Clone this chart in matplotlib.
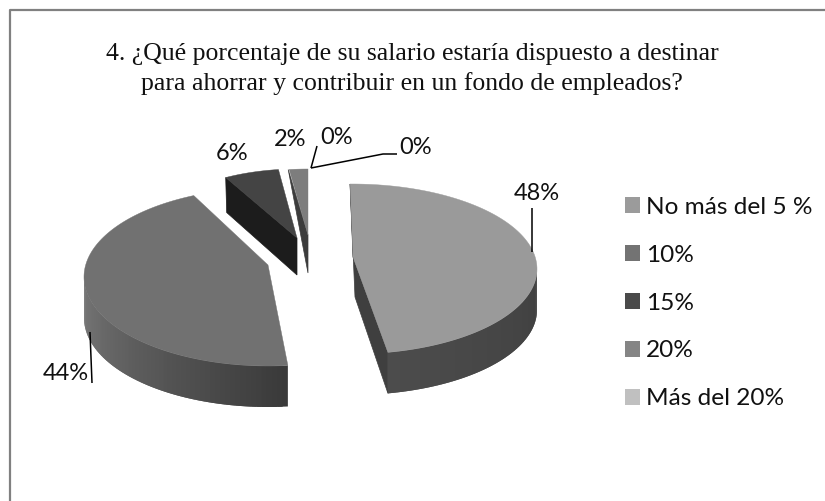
import numpy as np
import matplotlib
matplotlib.use('Agg')
import matplotlib.pyplot as plt
from matplotlib.patches import Patch

titulo = '4. ¿Qué porcentaje de su salario estaría dispuesto a destinar\npara ahorrar y contribuir en un fondo de empleados?'
categorias = ['No más del 5 %', '10%', '15%', '20%', 'Más del 20%']
colores_leyenda = ['#9b9b9b', '#737373', '#4a4a4a', '#858585', '#c0c0c0']
valores = [48, 44, 6, 2, 0, 0]
etiquetas = ['48%', '44%', '6%', '2%', '0%', '0%']

# geometria de cada porcion visible: (centro x, centro y, rx, ry, apice x, apice y, alto)
geo = [
    (352, 269, 185, 85, 353, 257, 41),
    (268, 277, 184, 89, 268, 265, 41),
    (297, 238, 148, 69, 297, 238, 37),
    (308, 235, 150, 66, 308, 235, 38),
]
ajuste = [(-0.6, -4), (1, 5), (0, 0), (0, 0)]  # correccion de perspectiva, grados
color_tapa = ['#9a9a9a', '#717171', '#444444', '#7d7d7d']
color_corte = ['#3f3f3f', '#3a3a3a', '#1c1c1c', '#3c3c3c']
# lado exterior: angulo inicial, angulo final, color inicial, color final
lados = [(90, None, '#404040', '#4c4c4c'), (None, 270, '#3a3a3a', '#7a7a7a')]

fig = plt.figure(figsize=(8.25, 5.01), dpi=100)
ax = fig.add_axes([0, 0, 1, 1])
ax.set_xlim(0, 825)
ax.set_ylim(501, 0)
ax.axis('off')

# marco: solo se ve arriba y a la izquierda
ax.plot([10, 10, 825], [501, 9.5, 9.5], color='#808080', lw=1.6)
ax.text(412, 95, titulo, family='Liberation Serif', fontsize=18.5, ha='center',
        va='bottom', color='#111111', linespacing=1.4)


def punto(g, ang):
    t = np.radians(ang)
    return g[0] + g[2]*np.sin(t), g[1] - g[3]*np.cos(t)


def lerp(c1, c2, f):
    a = np.array(matplotlib.colors.to_rgb(c1))
    b = np.array(matplotlib.colors.to_rgb(c2))
    return tuple(a + (b - a)*f)


inicio = 0
for i, v in enumerate(valores):
    fin = inicio + v*3.6
    if v > 0:
        g = geo[i]
        a0 = inicio + ajuste[i][0]
        a1 = fin + ajuste[i][1]
        ap = (g[4], g[5])
        h = g[6]
        p0 = punto(g, a0)
        p1 = punto(g, a1)

        # caras de corte
        if i == 0:
            cara = [p0, ap, p1, (p1[0], p1[1]+h), (ap[0]+2, ap[1]+h-1)]
        elif i == 2:
            cara = [p0, ap, (ap[0], ap[1]+h), (p0[0]+1, p0[1]+h-2)]
        elif i == 3:
            cara = [(p0[0]-1, p0[1]), ap, (ap[0], ap[1]+h)]
        else:
            cara = None
        if cara:
            ax.fill(*zip(*cara), color=color_corte[i], lw=0.5)

        # lado exterior con degradado
        if i < 2:
            b0 = lados[i][0] if lados[i][0] is not None else a0
            b1 = lados[i][1] if lados[i][1] is not None else a1
            angs = np.linspace(b0, b1, 60)
            for k in range(len(angs)-1):
                q0 = punto(g, angs[k])
                q1 = punto(g, angs[min(k+2, len(angs)-1)])
                c = lerp(lados[i][2], lados[i][3], k/(len(angs)-2))
                ax.fill([q0[0], q1[0], q1[0], q0[0]], [q0[1], q1[1], q1[1]+h, q0[1]+h],
                        color=c, lw=0)

        # tapa
        angs = np.linspace(a0, a1, 120)
        xs, ys = punto(g, angs)
        ax.fill(np.r_[ap[0], xs], np.r_[ap[1], ys], color=color_tapa[i], lw=0.3)
    inicio = fin

# lineas guia
guias = [([532, 532], [208, 252]), ([92, 90], [383, 332]),
         ([317, 311], [146, 168]), ([311, 383, 397], [168, 154, 154])]
for gx, gy in guias:
    ax.plot(gx, gy, color='black', lw=1.1, solid_capstyle='butt')

pos_etq = [(537, 193), (66, 373), (232, 154), (290, 140), (337, 137), (416, 148)]
for (x, y), et in zip(pos_etq, etiquetas):
    ax.text(x, y, et, family='Lato', fontsize=17, ha='center', va='center', color='#111111')

handles = [Patch(color=c, lw=0) for c in colores_leyenda]
ax.legend(handles, categorias, loc='center left', bbox_to_anchor=(625/825, 1-303/501),
          frameon=False, prop={'family': 'Lato', 'size': 17.6}, handlelength=0.61,
          handleheight=0.61, handletextpad=0.25, labelspacing=1.1, labelcolor='#111111',
          borderpad=0, borderaxespad=0)

fig.savefig('out.png', dpi=100)
